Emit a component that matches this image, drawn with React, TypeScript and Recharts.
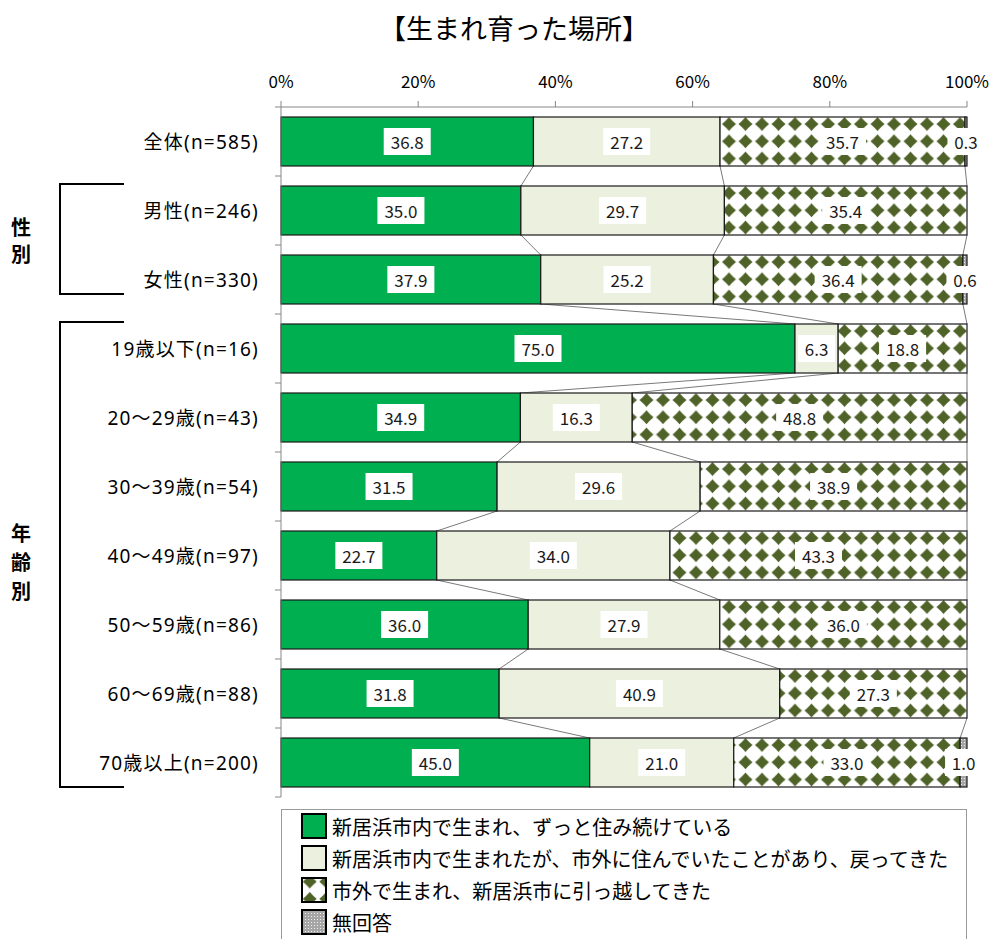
import React from 'react'
import { BarChart, Bar, XAxis, YAxis } from 'recharts'

const FONT = "'Noto Sans CJK JP', 'Noto Sans', sans-serif"
const LABEL_FONT = "'Noto Sans', 'Noto Sans CJK JP', sans-serif"

const categories = [
  '全体(n=585)',
  '男性(n=246)',
  '女性(n=330)',
  '19歳以下(n=16)',
  '20～29歳(n=43)',
  '30～39歳(n=54)',
  '40～49歳(n=97)',
  '50～59歳(n=86)',
  '60～69歳(n=88)',
  '70歳以上(n=200)',
]
const bornStayed = [36.8, 35.0, 37.9, 75.0, 34.9, 31.5, 22.7, 36.0, 31.8, 45.0]
const bornReturned = [27.2, 29.7, 25.2, 6.3, 16.3, 29.6, 34.0, 27.9, 40.9, 21.0]
const movedIn = [35.7, 35.4, 36.4, 18.8, 48.8, 38.9, 43.3, 36.0, 27.3, 33.0]
const noAnswer = [0.3, 0, 0.6, 0, 0, 0, 0, 0, 0, 1.0]
const xTicks = [0, 0.2, 0.4, 0.6, 0.8, 1]

const seriesNames = [
  '新居浜市内で生まれ、ずっと住み続けている',
  '新居浜市内で生まれたが、市外に住んでいたことがあり、戻ってきた',
  '市外で生まれ、新居浜市に引っ越してきた',
  '無回答',
]

const W = 993
const H = 939
const MARGIN = { top: 60, right: 26, bottom: 142, left: 11 }
const X_AXIS_H = 47
const Y_AXIS_W = 270
const BAR_SIZE = 49
const STEP = (H - MARGIN.top - MARGIN.bottom - X_AXIS_H) / categories.length
const TICK_MARGIN = 16

const series = [
  { key: 's0', name: seriesNames[0], values: bornStayed, fill: '#00B050' },
  { key: 's1', name: seriesNames[1], values: bornReturned, fill: '#EBF1DE' },
  { key: 's2', name: seriesNames[2], values: movedIn, fill: 'url(#diamond)' },
  { key: 's3', name: seriesNames[3], values: noAnswer, fill: 'url(#dots)' },
]

const rows = categories.map((name, i) => {
  const row: any = { name, i }
  let total = 0
  series.forEach(s => {
    row[s.key] = s.values[i]
    total += s.values[i]
  })
  row.total = total
  return row
})

function cumulative(i: number, upTo: number) {
  let c = 0
  for (let k = 0; k < upTo; k++) c += series[k].values[i]
  return c
}

function Patterns({ prefix = '', dx = 0, dy = 0 }: { prefix?: string; dx?: number; dy?: number }) {
  const pw = 16.5
  const ph = 17.25
  const cx = pw / 2
  const cy = ph / 2
  const r = 7
  const q = r * 0.46
  const d = `M${cx},${cy - r} Q${cx + q},${cy - q} ${cx + r},${cy} Q${cx + q},${cy + q} ${cx},${cy + r} Q${cx - q},${cy + q} ${cx - r},${cy} Q${cx - q},${cy - q} ${cx},${cy - r} Z`
  return (
    <defs>
      <pattern id={prefix + 'diamond'} patternUnits="userSpaceOnUse" width={pw} height={ph} x={dx} y={dy}>
        <rect width={pw} height={ph} fill="#fff" />
        <path d={d} fill="#4F6228" />
      </pattern>
      <pattern id={prefix + 'dots'} patternUnits="userSpaceOnUse" width={3} height={3}>
        <rect width={3} height={3} fill="#A6A6A6" />
        <rect x={1} y={1} width={1} height={1} fill="#EEEEEE" />
      </pattern>
    </defs>
  )
}

function labelWidth(t: string) {
  let w = 12
  for (const c of t) w += c === '.' ? 5 : 10
  return w
}

function makeShape(k: number) {
  return (props: any) => {
    const { x, y, width, height, payload } = props
    const i = payload.i
    const val = series[k].values[i]
    const parts: React.ReactNode[] = []
    // series lines between this bar and the next one
    if (k === 0 && i < rows.length - 1 && val > 0) {
      const plotW = (width * rows[i].total) / val
      const next = rows[i + 1]
      for (let b = 1; b <= 3; b++) {
        const a1 = (cumulative(i, b) / rows[i].total) * plotW
        const a2 = (cumulative(i + 1, b) / next.total) * plotW
        parts.push(
          <line key={'sl' + b} x1={x + a1} y1={y + height} x2={x + a2} y2={y + STEP}
            stroke="#7a7a7a" strokeWidth={1} />
        )
      }
    }
    if (val > 0 && width > 0) {
      parts.push(
        <rect key="r" x={x} y={y} width={width} height={height} fill={series[k].fill}
          stroke="#1a1a1a" strokeWidth={1.2} />
      )
      const txt = val.toFixed(1)
      const bw = labelWidth(txt)
      const cx = x + width / 2
      const cy = y + height / 2
      parts.push(
        <g key="l">
          <rect x={cx - bw / 2} y={cy - 13.5} width={bw} height={27} fill="#fff" />
          <text x={cx} y={cy} textAnchor="middle" dominantBaseline="central" fontSize={17}
            fill="#1a1a1a" fontFamily={FONT}>{txt}</text>
        </g>
      )
    }
    return <g>{parts}</g>
  }
}

function CategoryTick(props: any) {
  const { x, y, payload, index } = props
  const axisX = x + TICK_MARGIN + 6
  return (
    <g>
      <line x1={axisX - 6} y1={y - STEP / 2} x2={axisX} y2={y - STEP / 2} stroke="#868686" />
      {index === categories.length - 1 && (
        <line x1={axisX - 6} y1={y + STEP / 2} x2={axisX} y2={y + STEP / 2} stroke="#868686" />
      )}
      <text x={x} y={y} textAnchor="end" dominantBaseline="central" fontSize={19}
        letterSpacing={1.2} fill="#000" fontFamily={LABEL_FONT}>{payload.value}</text>
    </g>
  )
}

function Legend() {
  return (
    <div style={{ position: 'absolute', left: 281, top: 809, width: 686, height: 150,
      border: '1.5px solid #9a9a9a', background: '#fff', boxSizing: 'border-box' }}>
      {series.map((s, k) => (
        <div key={s.key} style={{ position: 'absolute', left: 19, top: 2 + k * 32, height: 28,
          display: 'flex', alignItems: 'center', whiteSpace: 'nowrap' }}>
          <svg width={26} height={26}>
            <Patterns prefix="lg" dx={0.5} dy={-4} />
            <rect x={1} y={1} width={24} height={24}
              fill={s.fill.replace('#diamond', '#lgdiamond').replace('#dots', '#lgdots')}
              stroke="#000" strokeWidth={2} />
          </svg>
          <span style={{ marginLeft: 5, fontSize: 20, color: '#000', fontFamily: FONT }}>{s.name}</span>
        </div>
      ))}
    </div>
  )
}

function Groups() {
  const t = { fontSize: 20, fontWeight: 700, fontFamily: FONT, fill: '#000' }
  return (
    <svg width={W} height={H} style={{ position: 'absolute', left: 0, top: 0, pointerEvents: 'none' }}>
      <path d="M124,184 H60 V294 H124" fill="none" stroke="#000" strokeWidth={2} />
      <path d="M124,322 H60 V787 H124" fill="none" stroke="#000" strokeWidth={2} />
      <text x={21} y={226} textAnchor="middle" dominantBaseline="central" {...t}>性</text>
      <text x={21} y={253} textAnchor="middle" dominantBaseline="central" {...t}>別</text>
      <text x={21} y={532} textAnchor="middle" dominantBaseline="central" {...t}>年</text>
      <text x={21} y={561} textAnchor="middle" dominantBaseline="central" {...t}>齢</text>
      <text x={21} y={590} textAnchor="middle" dominantBaseline="central" {...t}>別</text>
    </svg>
  )
}

export default function App() {
  return (
    <div style={{ position: 'absolute', left: 0, top: 0, width: W, height: H, overflow: 'hidden',
      background: '#fff', fontFamily: FONT }}>
      <div style={{ position: 'absolute', left: 0, top: 9, width: 1028, textAlign: 'center',
        fontSize: 27, lineHeight: '38px', color: '#000' }}>【生まれ育った場所】</div>
      <div style={{ position: 'absolute', left: 0, top: 0 }}>
        <BarChart width={W} height={H} data={rows} layout="vertical" stackOffset="expand"
          margin={MARGIN} barSize={BAR_SIZE}>
          <Patterns dx={720.75} dy={115.4} />
          <XAxis type="number" orientation="top" domain={[0, 1]} ticks={xTicks} height={X_AXIS_H}
            tickFormatter={(v: number) => `${Math.round(v * 100)}%`} tickSize={6} tickMargin={13}
            stroke="#868686" tick={{ fill: '#000', fontSize: 17, fontFamily: FONT }} interval={0} />
          <YAxis type="category" dataKey="name" width={Y_AXIS_W} tickLine={false} tickSize={6}
            tickMargin={TICK_MARGIN} stroke="#868686" tick={CategoryTick} interval={0} />
          {series.map((s, k) => (
            <Bar key={s.key} dataKey={s.key} stackId="a" fill={s.fill} shape={makeShape(k)}
              isAnimationActive={false} />
          ))}
        </BarChart>
      </div>
      <Groups />
      <Legend />
    </div>
  )
}
